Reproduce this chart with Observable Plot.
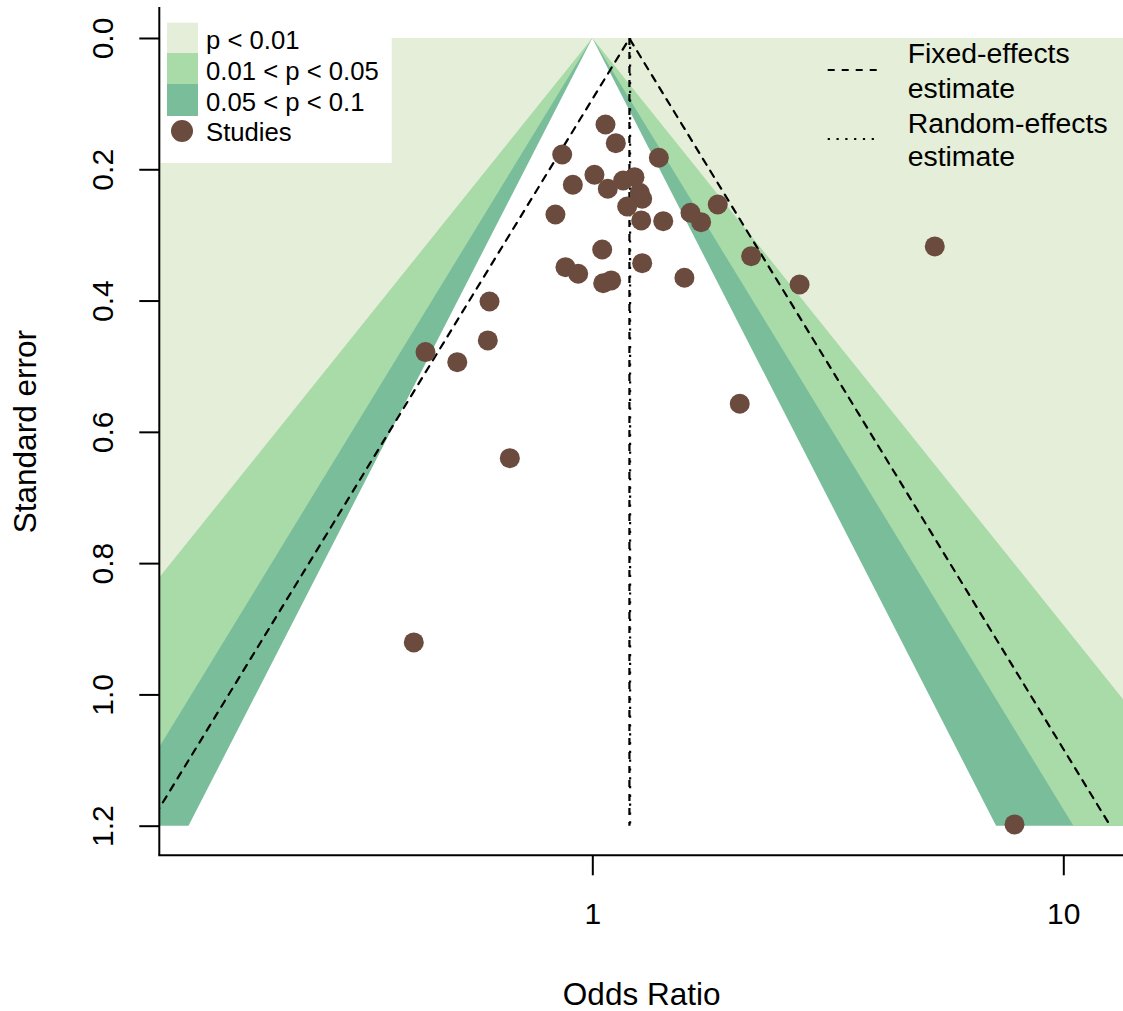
<!DOCTYPE html>
<html><head><meta charset="utf-8">
<script src="https://cdn.jsdelivr.net/npm/d3@7"></script>
<script src="https://cdn.jsdelivr.net/npm/@observablehq/plot@0.6"></script>
<style>body{margin:0;background:#fff} svg{display:block}</style>
</head><body><div id="chart"></div>
<script>
// ---- data ----
const studyOR = [1.064,1.119,0.861,1.381,1.008,0.907,1.076,1.160,1.226,1.258,1.273,1.183,1.267,1.411,0.833,1.612,1.698,1.842,1.047,1.273,0.875,0.931,1.052,1.094,1.565,2.169,2.748,5.322,2.051,0.6035,0.5985,0.4413,0.5155,0.6665,0.4168,7.859];
const studySE = [0.131,0.1595,0.1767,0.1817,0.2076,0.2228,0.2289,0.2163,0.2113,0.235,0.2442,0.2559,0.2772,0.2783,0.2681,0.2655,0.2798,0.2529,0.3214,0.3423,0.3484,0.3584,0.3728,0.3686,0.3645,0.3316,0.3747,0.3168,0.5564,0.4006,0.46,0.4778,0.4931,0.6393,0.92,1.1973];
const xTicks = [1, 10];
const xTickLabels = ["1", "10"];
const yTicks = [0, 0.2, 0.4, 0.6, 0.8, 1.0, 1.2];
const yTickLabels = ["0.0", "0.2", "0.4", "0.6", "0.8", "1.0", "1.2"];
const contourLabels = ["p < 0.01", "0.01 < p < 0.05", "0.05 < p < 0.1"];
const contourZ = [2.576, 1.96, 1.645];
const contourColors = ["#e4eed8", "#a8dba8", "#79bd9a"];
const fixedEstimate = 1.196;
const randomEstimate = 1.20;
const seMax = 1.2;

// ---- layout ----
const W = 1123, H = 1011;
const xDomain = [0.1204, 13.39];
const yDomain = [-0.0472, 1.2451];
const font = "Liberation Sans, Arial, Helvetica, sans-serif";
const pointColor = "#6b4b3e";

const studies = studyOR.map((or, i) => ({or, se: studySE[i]}));

// contour regions drawn from widest (p<0.1) to narrowest (p<0.01)
const contourMarks = [];
for (let k = contourZ.length - 1; k >= 0; k--) {
  const z = contourZ[k];
  const edge = [0, seMax].map(se => ({se, b: Math.exp(z * se)}));
  contourMarks.push(Plot.areaX(edge, {y: "se", x1: "b", x2: xDomain[1], fill: contourColors[k], clip: true}));
  contourMarks.push(Plot.areaX(edge, {y: "se", x1: xDomain[0], x2: d => 1 / d.b, fill: contourColors[k], clip: true}));
}

const fixedFunnel = [
  {se: seMax, x: fixedEstimate * Math.exp(-1.96 * seMax)},
  {se: 0, x: fixedEstimate},
  {se: seMax, x: fixedEstimate * Math.exp(1.96 * seMax)}
];

const dash = "7,7", dot = "2.2,6.6";

const svg = Plot.plot({
  width: W, height: H,
  marginLeft: 159.3, marginRight: 0, marginTop: 7, marginBottom: H - 855.3,
  style: {fontFamily: font, background: "white"},
  x: {type: "log", domain: xDomain, axis: null},
  y: {domain: yDomain, reverse: true, axis: null},
  marks: [
    ...contourMarks,
    Plot.line(fixedFunnel, {x: "x", y: "se", stroke: "black", strokeWidth: 2.2, strokeDasharray: dash, clip: true}),
    Plot.ruleX([fixedEstimate], {y1: 0, y2: seMax, stroke: "black", strokeWidth: 2.2, strokeDasharray: dash}),
    Plot.ruleX([randomEstimate], {y1: 0, y2: seMax, stroke: "black", strokeWidth: 2.2, strokeDasharray: dot}),
    Plot.dot(studies, {x: "or", y: "se", r: 10, fill: pointColor, stroke: "none"}),
    Plot.axisX({ticks: xTicks, tickSize: 20, tickFormat: () => "", strokeWidth: 2, label: null}),
    Plot.axisY({ticks: yTicks, tickSize: 20, tickFormat: () => "", strokeWidth: 2, label: null}),
    Plot.text(xTicks, {x: d => d, text: (d, i) => xTickLabels[i], frameAnchor: "bottom", dy: 58.7, lineAnchor: "middle", fontSize: 30, fill: "black"}),
    Plot.text(yTicks, {y: d => d, text: (d, i) => yTickLabels[i], frameAnchor: "left", dx: -56.8, rotate: -90, textAnchor: "middle", lineAnchor: "middle", fontSize: 30, fill: "black"}),
    Plot.text(["Odds Ratio"], {frameAnchor: "bottom", dy: 139.5, textAnchor: "middle", lineAnchor: "middle", fontSize: 31.5, fill: "black"}),
    Plot.text(["Standard error"], {frameAnchor: "left", dx: -134, rotate: -90, textAnchor: "middle", lineAnchor: "middle", fontSize: 31.5, fill: "black"})
  ]
});

// ---- legends ----
const g = d3.select(svg).append("g").attr("font-family", font).attr("text-anchor", "start");
g.append("rect").attr("x", 160.4).attr("y", 7).attr("width", 391.7 - 160.4).attr("height", 163 - 7).attr("fill", "white");
const swY = [22.7, 53, 84, 116];
contourLabels.forEach((lab, i) => {
  g.append("rect").attr("x", 167).attr("y", swY[i]).attr("width", 31).attr("height", swY[i + 1] - swY[i]).attr("fill", contourColors[i]);
});
g.append("circle").attr("cx", 182).attr("cy", 131).attr("r", 11).attr("fill", pointColor);
const leftLabels = [...contourLabels, "Studies"];
const leftBase = [49, 80, 110.7, 140.5];
leftLabels.forEach((lab, i) => {
  g.append("text").attr("x", 206).attr("y", leftBase[i]).attr("text-anchor", "start").attr("font-size", 25.7).attr("fill", "black").text(lab);
});
g.append("line").attr("x1", 827.7).attr("x2", 880).attr("y1", 70).attr("y2", 70).attr("stroke", "black").attr("stroke-width", 2.2).attr("stroke-dasharray", dash);
g.append("line").attr("x1", 827.7).attr("x2", 880).attr("y1", 139).attr("y2", 139).attr("stroke", "black").attr("stroke-width", 2.2).attr("stroke-dasharray", dot);
const rightLabels = ["Fixed-effects", "estimate", "Random-effects", "estimate"];
const rightBase = [63.3, 97.5, 133.3, 166];
rightLabels.forEach((lab, i) => {
  g.append("text").attr("x", 907.7).attr("y", rightBase[i]).attr("text-anchor", "start").attr("font-size", 28.4).attr("fill", "black").text(lab);
});
// axis lines (L-shaped box)
g.append("line").attr("x1", 159.3).attr("x2", 159.3).attr("y1", 7).attr("y2", 855.3).attr("stroke", "black").attr("stroke-width", 2);
g.append("line").attr("x1", 158.3).attr("x2", W).attr("y1", 855.3).attr("y2", 855.3).attr("stroke", "black").attr("stroke-width", 2);

document.getElementById("chart").appendChild(svg);
</script>
</body></html>
